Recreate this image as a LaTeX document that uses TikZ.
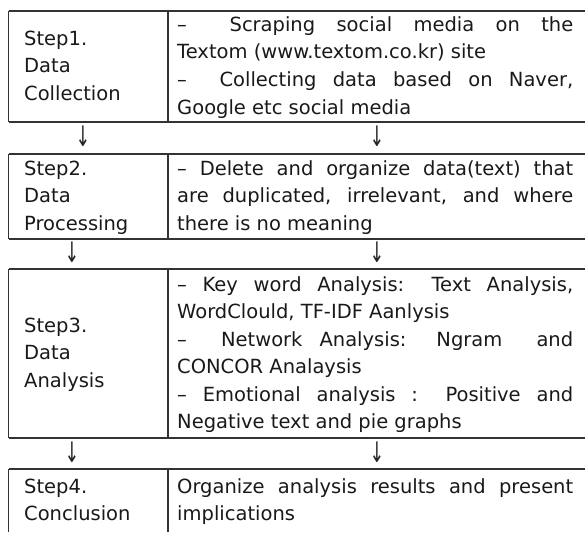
\documentclass[tikz,border=0pt]{standalone}
\usepackage{graphicx}
\usepackage{fontspec}
\setmainfont{DejaVu Sans}
\newcommand{\lnstrut}{\rule[-5pt]{0pt}{22.5pt}}
\newcommand{\jline}[1]{\lnstrut\makebox[396pt][s]{#1}}
\newcommand{\dwn}{\scalebox{0.9}[1.45]{↓}}
\begin{document}
\begin{tikzpicture}[x=1pt,y=-1pt,
  grid/.style={draw=black!80,line width=1.3pt},
  cell/.style={inner sep=0pt, align=left, anchor=west, text=black!90,
    font=\fontsize{19.5}{27.5}\selectfont},
  arr/.style={inner sep=0pt, text=black!85, font=\fontsize{19.5}{27.5}\selectfont}]
\useasboundingbox (0,0) rectangle (585,532);
% grid lines
\foreach \y in {11,122,154,239,269,438,469}
  \draw[grid] (8.5,\y) -- (585,\y);
\foreach \a/\b in {11/122,154/239,269/438,469/532}{
  \draw[grid] (8.5,\a) -- (8.5,\b);
  \draw[grid] (168,\a) -- (168,\b);
}
% row 1
\node[cell] (s1) at (24,66.5) {\lnstrut Step1.\\ \lnstrut Data\\ \lnstrut Collection};
\node[cell] (d1) at (177,66.5) {\jline{– \ Scraping social media on the}\\
  \lnstrut Textom (www.textom.co.kr) site\\
  \jline{– \ Collecting data based on Naver,}\\
  \lnstrut Google etc social media};
% row 2
\node[cell] (s2) at (24,196.5) {\lnstrut Step2.\\ \lnstrut Data\\ \lnstrut Processing};
\node[cell] (d2) at (177,196.5) {\jline{– Delete and organize data(text) that}\\
  \jline{are duplicated, irrelevant, and where}\\
  \lnstrut there is no meaning};
% row 3
\node[cell] (s3) at (24,353.5) {\lnstrut Step3.\\ \lnstrut Data\\ \lnstrut Analysis};
\node[cell] (d3) at (177,353.5) {\jline{– Key word Analysis: Text Analysis,}\\
  \lnstrut WordClould, TF-IDF Aanlysis\\
  \jline{– \ Network Analysis: Ngram \ and}\\
  \lnstrut CONCOR Analaysis\\
  \jline{– Emotional analysis : Positive and}\\
  \lnstrut Negative text and pie graphs};
% row 4
\node[cell] (s4) at (24,500.5) {\lnstrut Step4.\\ \lnstrut Conclusion};
\node[cell] (d4) at (177,500.5) {\jline{Organize analysis results and present}\\
  \lnstrut implications};
% arrows
\node[arr] (a1l) at (83,136.5) {\dwn};
\node[arr] (a1r) at (377,136.5) {\dwn};
\node[arr] (a2l) at (72,252.5) {\dwn};
\node[arr] (a2r) at (377,252.5) {\dwn};
\node[arr] (a3l) at (72,452.5) {\dwn};
\node[arr] (a3r) at (377,452.5) {\dwn};
\end{tikzpicture}
\end{document}
